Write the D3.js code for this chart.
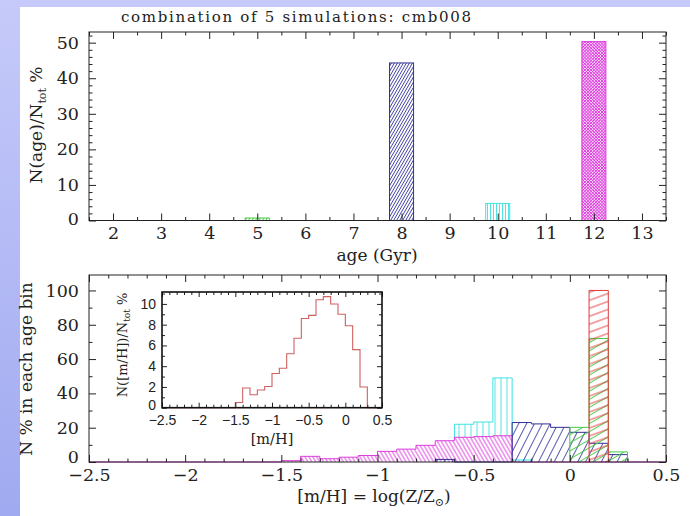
<!DOCTYPE html>
<html>
<head>
<meta charset="utf-8">
<script src="https://cdn.jsdelivr.net/npm/d3@7"></script>
<style>
body { margin: 0; }
svg { display: block; }
text { font-family: "DejaVu Serif", serif; fill: #222; }
</style>
</head>
<body>
<svg id="chart" width="690" height="516"></svg>
<script>
// top panel: N(age)/Ntot %
var ages = [5, 8, 10, 12];
var agePct = [0.7, 44.3, 4.8, 50.3];
var ageNames = ["green", "blue", "cyan", "magenta"];
var ageTicks = [2, 3, 4, 5, 6, 7, 8, 9, 10, 11, 12, 13];
var pctTicks = [0, 10, 20, 30, 40, 50];

// bottom panel: [m/H] histograms, bins of 0.1 (left edges)
var binLeft = [-2.5, -2.4, -2.3, -2.2, -2.1, -2.0, -1.9, -1.8, -1.7, -1.6,
               -1.5, -1.4, -1.3, -1.2, -1.1, -1.0, -0.9, -0.8, -0.7, -0.6,
               -0.5, -0.4, -0.3, -0.2, -0.1, 0.0, 0.1, 0.2, 0.3, 0.4];
var mhMagenta = [0, 0, 0, 0, 0, 0, 0, 0, 0, 0,
                 0.8, 3.3, 1.9, 2.8, 3.8, 6.2, 7.5, 9.7, 12.4, 14.4,
                 14.8, 15.3, 0, 0, 0, 0, 0, 0, 0, 0];
var mhCyan = [0, 0, 0, 0, 0, 0, 0, 0, 0, 0,
              0, 0, 0, 0, 0, 0, 0, 0, 0, 22.0,
              23.3, 49.0, 1.2, 0, 0, 0, 0, 0, 0, 0];
var mhBlue = [0, 0, 0, 0, 0, 0, 0, 0, 0, 0,
              0, 0, 0, 0, 0, 0, 0, 0, 1.5, 0,
              0, 0, 23.0, 22.2, 20.2, 17.3, 10.9, 4.3, 0, 0];
var mhGreen = [0, 0, 0, 0, 0, 0, 0, 0, 0, 0,
               0, 0, 0, 0, 0, 0, 0, 0, 0, 0,
               0, 0, 0, 0, 0, 20.2, 72.0, 5.9, 0, 0];
var mhRed = [0, 0, 0, 0, 0, 0, 0, 0, 0, 0,
             0, 0, 0, 0, 0, 0, 0, 0, 0, 0,
             0, 0, 0, 0, 0, 0, 100, 0, 0, 0];
var mhTicks = [-2.5, -2, -1.5, -1, -0.5, 0, 0.5];
var binPctTicks = [0, 20, 40, 60, 80, 100];

// inset: all stars together
var mhAll = [0, 0, 0, 0, 0, 0, 0, 0, 0, 0,
             0.5, 1.9, 1.25, 1.7, 2.05, 3.3, 3.8, 5.2, 6.7, 8.6,
             8.9, 10.4, 10.7, 10.0, 9.0, 7.9, 5.6, 2.0, 0, 0];
var insetTicks = [0, 2, 4, 6, 8, 10];

var colors = {
    green: "#44cc44",
    blue: "#30309a",
    cyan: "#3fe2e2",
    magenta: "#dd3ddd",
    red: "#e03a3a"
};

var svg = d3.select("#chart");
var defs = svg.append("defs");

// page background
var grad = defs.append("linearGradient").attr("id", "bg")
    .attr("x1", 0).attr("y1", 0).attr("x2", 0).attr("y2", 1);
grad.append("stop").attr("offset", "0%").attr("stop-color", "#c6cafa");
grad.append("stop").attr("offset", "100%").attr("stop-color", "#a0aaf0");
svg.append("rect").attr("width", 690).attr("height", 516).attr("fill", "url(#bg)");
svg.append("rect").attr("x", 20).attr("y", 7).attr("width", 670).attr("height", 509).attr("fill", "white");

function hatch(id, color, gap, angle, bg, cross, sw) {
    var p = defs.append("pattern")
        .attr("id", id)
        .attr("patternUnits", "userSpaceOnUse")
        .attr("width", gap).attr("height", gap)
        .attr("patternTransform", "rotate(" + angle + ")");
    if (bg) p.append("rect").attr("width", gap).attr("height", gap).attr("fill", "white");
    p.append("line").attr("x1", gap / 2).attr("x2", gap / 2).attr("y1", 0).attr("y2", gap)
        .attr("stroke", color).attr("stroke-width", sw || 0.9);
    if (cross) p.append("line").attr("y1", gap / 2).attr("y2", gap / 2).attr("x1", 0).attr("x2", gap)
        .attr("stroke", color).attr("stroke-width", sw || 0.9);
}

// dense hatches for the age bars
hatch("tGreen", colors.green, 3, 30, false, false);
hatch("tBlue", colors.blue, 2.6, 30, false, false, 0.8);
hatch("tCyan", colors.cyan, 3, 0, false, false);
hatch("tMagenta", colors.magenta, 2.2, 45, false, true);
// wider hatches for the [m/H] histograms
hatch("hCyan", colors.cyan, 6, 0, false, false);
hatch("hMagenta", colors.magenta, 3.4, -30, true, false);
hatch("hBlue", colors.blue, 7, 27, false, false, 0.8);
hatch("hGreen", colors.green, 7, 60, false, false);
hatch("hRed", colors.red, 7.5, 70, false, false);

function frame(x, y, xMajor, xMinor, yMajor, yMinor, big, small, fmtX, fmtY, pad) {
    var x0 = x.range()[0], x1 = x.range()[1];
    var y0 = y.range()[0], y1 = y.range()[1];
    var g = svg.append("g");
    var parts = [
        [d3.axisBottom(x).tickValues(xMajor).tickSize(-big).tickPadding(pad.x).tickFormat(fmtX), 0, y0],
        [d3.axisBottom(x).tickValues(xMinor).tickSize(-small).tickFormat(""), 0, y0],
        [d3.axisTop(x).tickValues(xMajor).tickSize(-big).tickFormat(""), 0, y1],
        [d3.axisTop(x).tickValues(xMinor).tickSize(-small).tickFormat(""), 0, y1],
        [d3.axisLeft(y).tickValues(yMajor).tickSize(-big).tickPadding(pad.y).tickFormat(fmtY), x0, 0],
        [d3.axisLeft(y).tickValues(yMinor).tickSize(-small).tickFormat(""), x0, 0],
        [d3.axisRight(y).tickValues(yMajor).tickSize(-big).tickFormat(""), x1, 0],
        [d3.axisRight(y).tickValues(yMinor).tickSize(-small).tickFormat(""), x1, 0]
    ];
    parts.forEach(function (p, k) {
        var a = g.append("g").attr("transform", "translate(" + p[1] + "," + p[2] + ")").call(p[0]);
        a.select(".domain").remove();
        a.selectAll(".tick line").attr("stroke", "#222");
        a.attr("font-family", null).attr("font-size", null);
        // lift the lowest y label a little so it clears the first x label
        if (k == 4) a.selectAll(".tick text").filter(d => d == 0).attr("dy", pad.dy);
    });
    return g;
}

// ---------- top panel ----------
var xTop = d3.scaleLinear().domain([1.5, 13.5]).range([89, 666]);
var yTop = d3.scaleLinear().domain([0, 53]).range([220.5, 32]);

var fillsTop = ["tGreen", "tBlue", "tCyan", "tMagenta"];
svg.append("g").selectAll("rect")
    .data(ages)
    .join("rect")
    .attr("x", d => xTop(d - 0.25))
    .attr("width", d => xTop(d + 0.25) - xTop(d - 0.25))
    .attr("y", (d, i) => yTop(agePct[i]))
    .attr("height", (d, i) => yTop(0) - yTop(agePct[i]))
    .attr("fill", (d, i) => "url(#" + fillsTop[i] + ")")
    .attr("stroke", (d, i) => colors[ageNames[i]])
    .attr("stroke-width", 1);

var gTop = frame(xTop, yTop, ageTicks, d3.range(1.5, 13.6, 1), pctTicks,
    d3.range(0, 53, 2).filter(v => v % 10 != 0), 7, 3.5,
    d3.format("d"), d3.format("d"), {x: 6, y: 10, dy: "0.2em"});
gTop.selectAll("text").attr("font-size", 17.5);
svg.append("rect").attr("x", 89).attr("y", 32).attr("width", 577).attr("height", 188.5)
    .attr("fill", "none").attr("stroke", "#222").attr("stroke-width", 1);

svg.append("text").attr("x", 296).attr("y", 22).attr("text-anchor", "middle")
    .attr("font-size", 15).attr("textLength", 350)
    .text("combination of 5 simulations: cmb008");
svg.append("text").attr("x", 377).attr("y", 261).attr("text-anchor", "middle")
    .attr("font-size", 17).text("age (Gyr)");
var tyl = svg.append("text").attr("transform", "translate(42,125) rotate(-90)")
    .attr("text-anchor", "middle").attr("font-size", 17);
tyl.append("tspan").text("N(age)/N");
tyl.append("tspan").attr("font-size", 11).attr("dy", 4).text("tot");
tyl.append("tspan").attr("dy", -4).text(" %");

// ---------- bottom panel ----------
var xBot = d3.scaleLinear().domain([-2.5, 0.5]).range([89, 666]);
var yBot = d3.scaleLinear().domain([0, 109]).range([462, 275]);

function histPoints(vals, full) {
    var nz = vals.map((v, i) => v > 0 ? i : -1).filter(i => i >= 0);
    var first = full ? 0 : nz[0];
    var last = full ? vals.length - 1 : nz[nz.length - 1];
    var pts = [[binLeft[first], 0]];
    for (var i = first; i <= last; i++) pts.push([binLeft[i], vals[i]]);
    pts.push([binLeft[last] + 0.1, vals[last]]);
    pts.push([binLeft[last] + 0.1, 0]);
    return pts;
}

function drawHist(x, y, vals, fill, color, full, width) {
    var pts = histPoints(vals, full);
    if (fill) {
        var area = d3.area().curve(d3.curveStepAfter)
            .x(d => x(d[0])).y0(y(0)).y1(d => y(d[1]));
        svg.append("path").attr("d", area(pts)).attr("fill", "url(#" + fill + ")");
    }
    var line = d3.line().curve(d3.curveStepAfter).x(d => x(d[0])).y(d => y(d[1]));
    svg.append("path").attr("d", line(pts)).attr("fill", "none")
        .attr("stroke", color).attr("stroke-width", width || 1);
}

drawHist(xBot, yBot, mhCyan, "hCyan", colors.cyan, false);
drawHist(xBot, yBot, mhMagenta, "hMagenta", colors.magenta, true);
drawHist(xBot, yBot, mhBlue, "hBlue", colors.blue, false);
drawHist(xBot, yBot, mhGreen, "hGreen", colors.green, false);
drawHist(xBot, yBot, mhRed, "hRed", colors.red, false);

var gBot = frame(xBot, yBot, mhTicks, d3.range(-2.4, 0.45, 0.1).filter(v => Math.abs(v * 2 - Math.round(v * 2)) > 0.01),
    binPctTicks, [10, 30, 50, 70, 90], 7, 3.5,
    d3.format("~g"), d3.format("d"), {x: 7, y: 10, dy: "0.02em"});
gBot.selectAll("text").attr("font-size", 17.5);
svg.append("rect").attr("x", 89).attr("y", 275).attr("width", 577).attr("height", 187)
    .attr("fill", "none").attr("stroke", "#222").attr("stroke-width", 1);

var bxl = svg.append("text").attr("x", 374).attr("y", 502).attr("text-anchor", "middle")
    .attr("font-size", 17);
bxl.append("tspan").text("[m/H] = log(Z/Z");
bxl.append("tspan").attr("font-size", 11).attr("dy", 4).text("\u2299");
bxl.append("tspan").attr("dy", -4).text(")");
svg.append("text").attr("transform", "translate(32,369) rotate(-90)")
    .attr("text-anchor", "middle").attr("font-size", 17).text("N % in each age bin");

// ---------- inset ----------
var xIn = d3.scaleLinear().domain([-2.5, 0.5]).range([162, 382]);
var yIn = d3.scaleLinear().domain([0, 11.15]).range([407.7, 292]);

svg.append("rect").attr("x", 162).attr("y", 292).attr("width", 220).attr("height", 115.7)
    .attr("fill", "white");
drawHist(xIn, yIn, mhAll, null, "#d06262", true, 1.1);

var gIn = frame(xIn, yIn, mhTicks, d3.range(-2.4, 0.45, 0.1).filter(v => Math.abs(v * 2 - Math.round(v * 2)) > 0.01),
    insetTicks, [1, 3, 5, 7, 9, 11], 5, 3,
    d3.format("~g"), d3.format("d"), {x: 7, y: 6, dy: "0.12em"});
gIn.selectAll("text").attr("font-size", 14).style("font-family", "'Liberation Sans', Arial, sans-serif");
svg.append("rect").attr("x", 162).attr("y", 292).attr("width", 220).attr("height", 115.7)
    .attr("fill", "none").attr("stroke", "#111").attr("stroke-width", 1.6);

svg.append("text").attr("x", 272).attr("y", 444).attr("text-anchor", "middle")
    .attr("font-size", 14.5).text("[m/H]");
var iyl = svg.append("text").attr("transform", "translate(127,345) rotate(-90)")
    .attr("text-anchor", "middle").attr("font-size", 13);
iyl.append("tspan").text("N([m/H])/N");
iyl.append("tspan").attr("font-size", 9).attr("dy", 3).text("tot");
iyl.append("tspan").attr("dy", -3).text(" %");
</script>
</body>
</html>
